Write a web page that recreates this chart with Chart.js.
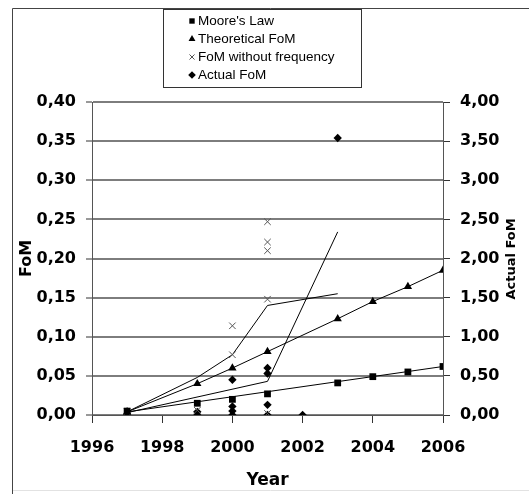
<!DOCTYPE html>
<html>
<head>
<meta charset="utf-8">
<script src="https://cdn.jsdelivr.net/npm/chart.js@4.4.1/dist/chart.umd.min.js"></script>
<style>
    body { margin: 0; background: #fff; }
    #wrap { width: 529px; height: 494px; }
</style>
</head>
<body>
<div id="wrap"><canvas id="chart" width="529" height="494"></canvas></div>
<script>
// axis ticks
var yearTicks = [1996, 1998, 2000, 2002, 2004, 2006];
var fomTicks = [0, 0.05, 0.10, 0.15, 0.20, 0.25, 0.30, 0.35, 0.40];
var actualTicks = [0, 0.5, 1.0, 1.5, 2.0, 2.5, 3.0, 3.5, 4.0];

// Moore's Law (left axis)
var mooreYears = [1997, 1999, 2000, 2001, 2003, 2004, 2005, 2006];
var mooreFoM   = [0.005, 0.015, 0.020, 0.027, 0.041, 0.049, 0.055, 0.062];
var mooreLineYears = [1997, 2006];
var mooreLineFoM   = [0.004, 0.062];

// Theoretical FoM (left axis)
var theoYears = [1997, 1999, 2000, 2001, 2003, 2004, 2005, 2006];
var theoFoM   = [0.004, 0.040, 0.060, 0.081, 0.123, 0.145, 0.164, 0.185];

// FoM without frequency (left axis)
var noFreqYears = [1997, 1999, 2000, 2000, 2001, 2001, 2001, 2001, 2001];
var noFreqFoM   = [0.004, 0.006, 0.077, 0.114, 0.002, 0.148, 0.210, 0.221, 0.247];
var noFreqLineYears = [1997, 1999, 2000, 2001, 2003];
var noFreqLineFoM   = [0.004, 0.048, 0.077, 0.140, 0.155];

// Actual FoM (right axis)
var actualYears = [1997, 1999, 1999, 2000, 2000, 2000, 2000, 2001, 2001, 2001, 2001, 2002, 2003];
var actualFoM   = [0.00, 0.00, 0.04, 0.00, 0.05, 0.11, 0.45, 0.00, 0.13, 0.53, 0.60, 0.00, 3.54];
var actualLineYears = [1997, 2001, 2003];
var actualLineFoM   = [0.03, 0.43, 2.34];

function pairs(xs, ys) {
    return xs.map(function (x, i) { return { x: x, y: ys[i] }; });
}

function fmt2(v) {
    return v.toFixed(2).replace('.', ',');
}

function drawMarker(ctx, style, x, y, r, color) {
    ctx.save();
    ctx.fillStyle = color;
    ctx.strokeStyle = color;
    ctx.lineWidth = 1;
    ctx.beginPath();
    if (style === 'rect') {
        var s = r * Math.SQRT1_2;
        ctx.rect(x - s, y - s, 2 * s, 2 * s);
        ctx.fill();
    } else if (style === 'triangle') {
        var e = r * Math.sqrt(3) / 2;
        ctx.moveTo(x, y - r);
        ctx.lineTo(x + e, y + r / 2);
        ctx.lineTo(x - e, y + r / 2);
        ctx.closePath();
        ctx.fill();
    } else if (style === 'rectRot') {
        ctx.moveTo(x, y - r);
        ctx.lineTo(x + r, y);
        ctx.lineTo(x, y + r);
        ctx.lineTo(x - r, y);
        ctx.closePath();
        ctx.fill();
    } else if (style === 'crossRot') {
        var c = r * Math.SQRT1_2;
        ctx.moveTo(x - c, y - c); ctx.lineTo(x + c, y + c);
        ctx.moveTo(x - c, y + c); ctx.lineTo(x + c, y - c);
        ctx.stroke();
    }
    ctx.restore();
}

var decorations = {
    id: 'decorations',
    beforeDraw: function (chart) {
        var ctx = chart.ctx;
        ctx.save();
        ctx.strokeStyle = '#e2e2e2';
        ctx.beginPath();
        ctx.moveTo(12, 490.5); ctx.lineTo(529, 490.5);
        ctx.stroke();
        ctx.strokeStyle = '#444';
        ctx.beginPath();
        ctx.moveTo(12.5, 494); ctx.lineTo(12.5, 8.5); ctx.lineTo(529, 8.5);
        ctx.stroke();
        ctx.restore();
    },
    afterDraw: function (chart) {
        var ctx = chart.ctx;
        ctx.save();
        // legend box
        ctx.fillStyle = '#fff';
        ctx.fillRect(163, 9, 199, 79);
        ctx.strokeStyle = '#333';
        ctx.lineWidth = 1;
        ctx.strokeRect(163.5, 9.5, 198, 78);
        var items = chart.data.datasets.filter(function (d) { return !d.showLine; });
        ctx.font = '13.5px "Liberation Sans", Arial, sans-serif';
        ctx.textBaseline = 'middle';
        ctx.textAlign = 'left';
        items.forEach(function (d, i) {
            var y = 21 + i * 18;
            drawMarker(ctx, d.pointStyle, 192, y, d.legendRadius, d.pointBorderColor);
            ctx.fillStyle = '#000';
            ctx.fillText(d.label, 198, y);
        });
        // right axis title
        ctx.translate(512, 259);
        ctx.rotate(-Math.PI / 2);
        ctx.textAlign = 'center';
        ctx.font = 'bold 13px "DejaVu Sans", sans-serif';
        ctx.fillStyle = '#000';
        ctx.fillText('Actual FoM', 0, 0);
        ctx.restore();
    }
};

var lineStyle = {
    showLine: true,
    borderColor: '#000',
    borderWidth: 1,
    pointRadius: 0,
    tension: 0
};

var tickFont = { family: '"DejaVu Sans", sans-serif', size: 16, weight: 'bold' };

var ctx = document.getElementById('chart');

var chart = new Chart(ctx, {
    type: 'scatter',
    data: {
        datasets: [
            {
                label: "Moore's Law",
                data: pairs(mooreYears, mooreFoM),
                yAxisID: 'y',
                pointStyle: 'rect',
                pointRadius: 4.8,
                legendRadius: 3.8,
                pointBackgroundColor: '#000',
                pointBorderColor: '#000',
                pointBorderWidth: 0
            },
            {
                label: 'Theoretical FoM',
                data: pairs(theoYears, theoFoM),
                yAxisID: 'y',
                pointStyle: 'triangle',
                pointRadius: 4.8,
                legendRadius: 4,
                pointBackgroundColor: '#000',
                pointBorderColor: '#000',
                pointBorderWidth: 0
            },
            {
                label: 'FoM without frequency',
                data: pairs(noFreqYears, noFreqFoM),
                yAxisID: 'y',
                pointStyle: 'crossRot',
                pointRadius: 4.6,
                legendRadius: 3.6,
                pointBackgroundColor: '#555',
                pointBorderColor: '#555',
                pointBorderWidth: 1
            },
            {
                label: 'Actual FoM',
                data: pairs(actualYears, actualFoM),
                yAxisID: 'y2',
                pointStyle: 'rectRot',
                pointRadius: 4.2,
                legendRadius: 3.8,
                pointBackgroundColor: '#000',
                pointBorderColor: '#000',
                pointBorderWidth: 0
            },
            Object.assign({ data: pairs(mooreLineYears, mooreLineFoM), yAxisID: 'y' }, lineStyle),
            Object.assign({ data: pairs(theoYears, theoFoM), yAxisID: 'y' }, lineStyle),
            Object.assign({ data: pairs(noFreqLineYears, noFreqLineFoM), yAxisID: 'y' }, lineStyle),
            Object.assign({ data: pairs(actualLineYears, actualLineFoM), yAxisID: 'y2' }, lineStyle)
        ]
    },
    options: {
        responsive: false,
        animation: false,
        color: '#000',
        layout: {
            padding: { left: 12, top: 102, right: 0, bottom: 0 }
        },
        plugins: {
            legend: { display: false },
            tooltip: { enabled: false }
        },
        scales: {
            x: {
                type: 'linear',
                min: yearTicks[0],
                max: yearTicks[yearTicks.length - 1],
                afterBuildTicks: function (s) {
                    s.ticks = yearTicks.map(function (v) { return { value: v }; });
                },
                afterFit: function (s) { s.height = 79; },
                grid: {
                    drawOnChartArea: false,
                    drawTicks: true,
                    tickLength: 8,
                    tickColor: '#333',
                    tickWidth: 1
                },
                border: { display: true, color: '#555', width: 1 },
                ticks: {
                    color: '#000',
                    font: tickFont,
                    padding: 15,
                    maxRotation: 0,
                    callback: function (v) { return String(v); }
                },
                title: {
                    display: true,
                    text: 'Year',
                    color: '#000',
                    font: { family: '"DejaVu Sans", sans-serif', size: 17, weight: 'bold' },
                    padding: { top: 0, bottom: 3 }
                }
            },
            y: {
                type: 'linear',
                position: 'left',
                min: fomTicks[0],
                max: fomTicks[fomTicks.length - 1],
                afterBuildTicks: function (s) {
                    s.ticks = fomTicks.map(function (v) { return { value: v }; });
                },
                afterFit: function (s) { s.width = 80; },
                grid: {
                    color: '#7d7d7d',
                    lineWidth: 2,
                    drawTicks: true,
                    tickLength: 6,
                    tickColor: '#333',
                    tickWidth: 1
                },
                border: { display: true, color: '#555', width: 1 },
                ticks: {
                    color: '#000',
                    font: tickFont,
                    padding: 10,
                    callback: function (v) { return fmt2(v); }
                },
                title: {
                    display: true,
                    text: 'FoM',
                    color: '#000',
                    font: { family: '"DejaVu Sans", sans-serif', size: 16, weight: 'bold' },
                    padding: { top: 5, bottom: 0 }
                }
            },
            y2: {
                type: 'linear',
                position: 'right',
                min: actualTicks[0],
                max: actualTicks[actualTicks.length - 1],
                afterBuildTicks: function (s) {
                    s.ticks = actualTicks.map(function (v) { return { value: v }; });
                },
                afterFit: function (s) { s.width = 86; },
                grid: {
                    drawOnChartArea: false,
                    drawTicks: true,
                    tickLength: 7,
                    tickColor: '#333',
                    tickWidth: 1
                },
                border: { display: true, color: '#555', width: 1 },
                ticks: {
                    color: '#000',
                    font: tickFont,
                    padding: 10,
                    callback: function (v) { return fmt2(v); }
                }
            }
        }
    },
    plugins: [decorations]
});
</script>
</body>
</html>
